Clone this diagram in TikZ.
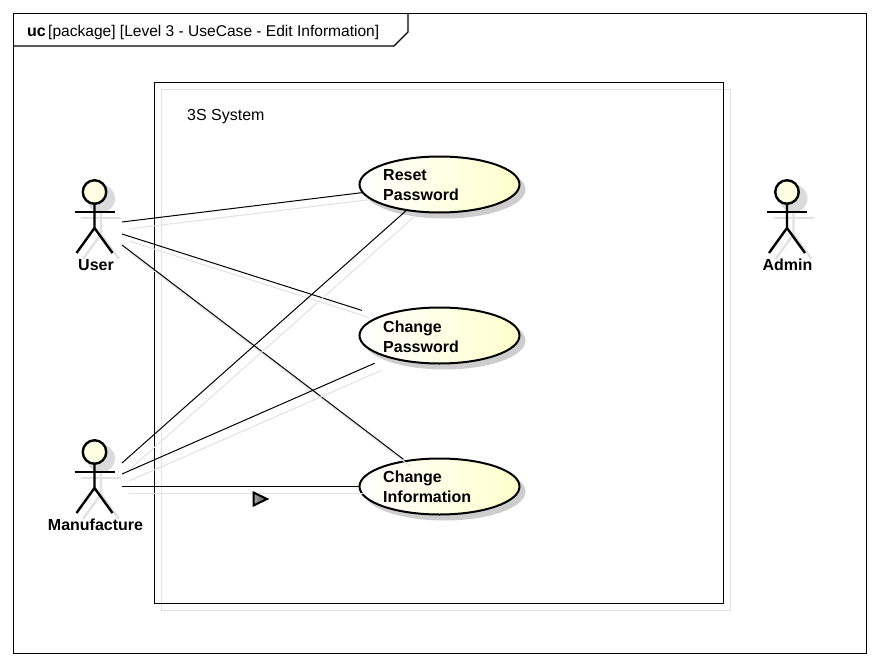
\documentclass[tikz,border=0pt]{standalone}
\usepackage{fontspec}
\setmainfont{Liberation Sans}
\usepackage{xcolor}
\definecolor{shadowgray}{RGB}{225,225,225}
\definecolor{headshadow}{RGB}{218,218,218}
\definecolor{ovalshadow}{RGB}{205,205,205}
\definecolor{paleyellow}{RGB}{255,255,205}
\definecolor{headyellow}{RGB}{255,255,228}
\usetikzlibrary{calc,positioning,shapes.geometric}
\tikzset{
  usecase/.style={ellipse,draw=black,line width=2pt,minimum width=160pt,minimum height=56pt,inner sep=0pt,outer sep=0pt,left color=white,right color=paleyellow},
  ovalback/.style={ellipse,fill=ovalshadow,minimum width=162pt,minimum height=58pt,inner sep=0pt,outer sep=0pt},
  caselabel/.style={align=left,anchor=west,font=\fontsize{16}{20}\selectfont\bfseries,inner sep=0pt},
  actorlabel/.style={font=\fontsize{16}{18}\selectfont\bfseries,inner sep=0pt},
  plainlabel/.style={font=\fontsize{16}{18}\selectfont,inner sep=0pt,anchor=base west},
  assoc/.style={draw=black,line width=1pt},
  assocback/.style={draw=shadowgray,line width=1pt},
  stick/.style={draw=black,line width=2.4pt},
  stickback/.style={draw=shadowgray,line width=2.4pt}
}
\begin{document}
\begin{tikzpicture}[x=1pt,y=-1pt]
  \useasboundingbox (0,0) rectangle (880,666);
  % Outer frame
  \draw[line width=1.1pt] (13.5,13.5) rectangle (866.5,653.5);
  \draw[line width=1.1pt] (13.5,46) -- (394,46) -- (408,32) -- (408,13.5);
  \node[plainlabel,font=\fontsize{16}{18}\selectfont\bfseries] (ucword) at (27,37) {uc};
  \node[plainlabel,font=\fontsize{15.55}{18}\selectfont] (frametitle) at (48,37) {[package] [Level 3 - UseCase - Edit Information]};
  % System boundary
  \draw[shadowgray,line width=1.1pt] (161.5,89.5) rectangle (730.5,610.5);
  \draw[line width=1.1pt] (154.5,82.5) rectangle (723.5,603.5);
  \node[plainlabel] (sysname) at (187,121) {3S System};
  % Connector start points
  \coordinate (U1) at (122,222);
  \coordinate (U2) at (122,234);
  \coordinate (U3) at (122,245);
  \coordinate (M1) at (122,463);
  \coordinate (M2) at (122,474);
  \coordinate (M3) at (122,486.5);
  % Use cases
  \foreach \name/\cy in {reset/184.5,cpass/335.5,cinfo/486.5}{
    \node[ovalback] (\name back) at (444.5,\cy+5) {};
    \node[usecase] (\name) at (439.5,\cy) {};
  }
  % Actors
  \foreach \name/\px/\py/\lab/\lx in {user/94.5/192/User/96,manu/94.5/452/Manufacture/95.5,admin/787/192/Admin/787.5}{
    \draw[stickback] (\px+6.5,\py+26) -- +(-20,0) -- +(20,0);
    \draw[stickback] (\px+6.5,\py+18) -- +(0,24) -- +(-18,49) +(0,24) -- +(18,49);
    \fill[headshadow] (\px+6.5,\py+6.5) circle (14);
    \draw[stick] (\px-20,\py+20) -- (\px+20,\py+20);
    \draw[stick] (\px,\py+12) -- (\px,\py+36) -- (\px-18,\py+61) (\px,\py+36) -- (\px+18,\py+61);
    \node[circle,draw=black,line width=2.4pt,fill=headyellow,minimum size=23.5pt,inner sep=0pt] (\name) at (\px,\py) {};
    \node[actorlabel] (\name label) at (\lx,\py+73) {\lab};
  }
  % Association lines
  \foreach \a/\b/\gap in {U1/reset.186.5/0,U2/cpass.162.4/20,U3/cinfo.143.2/3,M1/reset.218.8/0,M2/cpass.203.6/15.2,M3/cinfo.west/0}{
    \draw[assocback,shorten >=\gap pt] ($(\a)+(7,7)$) -- ($(\b)+(7,7)$);
    \draw[assoc,shorten >=\gap pt] (\a) -- (\b);
  }
  \node[caselabel] (resetlabel) at (383,185.5) {Reset\\Password};
  \node[caselabel] (cpasslabel) at (383,336.5) {Change\\Password};
  \node[caselabel] (cinfolabel) at (383,486.5) {Change\\Information};
  % Direction arrow
  \draw[line width=2pt,line join=miter,left color=gray!70,right color=black!70] (253.5,492.5) -- (267,499) -- (253.5,505.5) -- cycle;
\end{tikzpicture}
\end{document}
